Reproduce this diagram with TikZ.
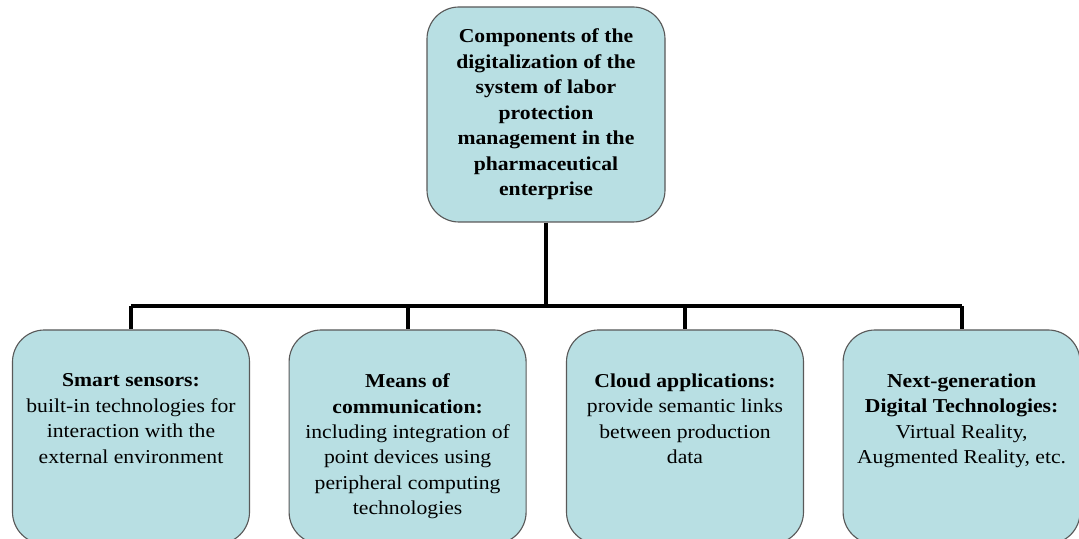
\documentclass[tikz,border=0pt]{standalone}
\usepackage{fontspec}
\setmainfont{Liberation Serif}[FakeStretch=1.1]
\usetikzlibrary{positioning}
\definecolor{boxblue}{HTML}{B8DFE3}
\tikzset{
  part/.style={draw=black!65, line width=0.8pt, fill=boxblue, rounded corners=0.8cm,
    minimum width=5.925cm, minimum height=5.35cm},
  parttext/.style={anchor=north, inner sep=0pt, align=center,
    font=\fontsize{14}{18.1}\selectfont},
  link/.style={line width=2.85pt}
}

\begin{document}
\begin{tikzpicture}
  \useasboundingbox (0,0) rectangle (26.975,13.475);
  \clip (0,0) rectangle (26.975,13.475);
  \node[part, minimum width=5.95cm, minimum height=5.375cm, align=center,
        font=\fontsize{14}{18.1}\selectfont\bfseries] (comp) at (13.65,10.6125)
        {Components of the\\ digitalization of the\\ system of labor\\ protection\\
         management in the\\ pharmaceutical\\ enterprise};
  \node[part] (s1) at (3.275,2.55)  {};
  \node[part] (s2) at (10.19,2.55)  {};
  \node[part] (s3) at (17.125,2.55) {};
  \node[part] (s4) at (24.04,2.55)  {};
  \node[parttext, below=1.1cm of s1.north] (t1)
    {\textbf{Smart sensors:}\\ built-in technologies for\\ interaction with the\\ external environment};
  \node[parttext, below=1.1cm of s2.north] (t2)
    {\textbf{Means of}\\ \textbf{communication:}\\ including integration of\\ point devices using\\
     peripheral computing\\ technologies};
  \node[parttext, below=1.1cm of s3.north] (t3)
    {\textbf{Cloud applications:}\\ provide semantic links\\ between production\\ data};
  \node[parttext, below=1.1cm of s4.north] (t4)
    {\textbf{Next-generation}\\ \textbf{Digital Technologies:}\\ Virtual Reality,\\ Augmented Reality, etc.};
  \coordinate (bus) at (13.65,5.825);
  \draw[link] (comp.south) -- (bus);
  \draw[link] (s1.north |- bus) -- (s4.north |- bus);
  \draw[link] (s1.north |- bus) -- (s1.north);
  \draw[link] (s2.north |- bus) -- (s2.north);
  \draw[link] (s3.north |- bus) -- (s3.north);
  \draw[link] (s4.north |- bus) -- (s4.north);
\end{tikzpicture}
\end{document}
